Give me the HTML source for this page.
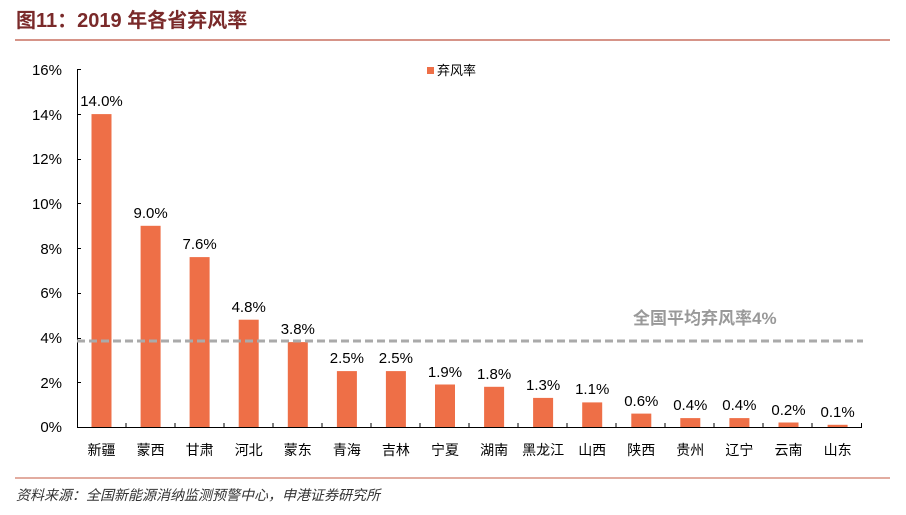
<!DOCTYPE html>
<html><head><meta charset="utf-8"><style>
body{margin:0;background:#fff;}
svg{display:block;font-family:"Liberation Sans","Noto Sans CJK SC",sans-serif;}
</style></head><body>
<svg width="906" height="515" viewBox="0 0 906 515" xmlns="http://www.w3.org/2000/svg">
<text x="16" y="27" font-size="20" font-weight="bold" fill="#7a2a2a">图11：2019 年各省弃风率</text>
<line x1="15" y1="40" x2="890" y2="40" stroke="#c87060" stroke-width="1.5"/>
<g font-size="15" fill="#000" text-anchor="end">
<text x="62" y="75">16%</text><text x="62" y="120">14%</text><text x="62" y="164">12%</text>
<text x="62" y="209">10%</text><text x="62" y="254">8%</text><text x="62" y="298">6%</text>
<text x="62" y="343">4%</text><text x="62" y="388">2%</text><text x="62" y="432">0%</text>
</g>
<g stroke="#000" stroke-width="1">
<line x1="77.5" y1="69" x2="77.5" y2="428"/>
<line x1="77" y1="427.5" x2="862" y2="427.5"/>
<line x1="77" y1="69.5" x2="81" y2="69.5"/><line x1="77" y1="114.5" x2="81" y2="114.5"/>
<line x1="77" y1="159.5" x2="81" y2="159.5"/><line x1="77" y1="203.5" x2="81" y2="203.5"/>
<line x1="77" y1="248.5" x2="81" y2="248.5"/><line x1="77" y1="293.5" x2="81" y2="293.5"/>
<line x1="77" y1="338.5" x2="81" y2="338.5"/><line x1="77" y1="382.5" x2="81" y2="382.5"/>
<line x1="126" y1="427" x2="126" y2="423"/><line x1="175" y1="427" x2="175" y2="423"/>
<line x1="224" y1="427" x2="224" y2="423"/><line x1="273" y1="427" x2="273" y2="423"/>
<line x1="322" y1="427" x2="322" y2="423"/><line x1="371" y1="427" x2="371" y2="423"/>
<line x1="420" y1="427" x2="420" y2="423"/><line x1="469" y1="427" x2="469" y2="423"/>
<line x1="518" y1="427" x2="518" y2="423"/><line x1="567" y1="427" x2="567" y2="423"/>
<line x1="616" y1="427" x2="616" y2="423"/><line x1="665" y1="427" x2="665" y2="423"/>
<line x1="714" y1="427" x2="714" y2="423"/><line x1="763" y1="427" x2="763" y2="423"/>
<line x1="812" y1="427" x2="812" y2="423"/><line x1="861.5" y1="427" x2="861.5" y2="423"/>
</g>
<g fill="#ee6f47">
<rect x="91.5" y="114.1" width="20" height="312.9"/>
<rect x="140.6" y="225.8" width="20" height="201.2"/>
<rect x="189.6" y="257.1" width="20" height="169.9"/>
<rect x="238.7" y="319.7" width="20" height="107.3"/>
<rect x="287.8" y="342.1" width="20" height="84.9"/>
<rect x="336.9" y="371.1" width="20" height="55.9"/>
<rect x="385.9" y="371.1" width="20" height="55.9"/>
<rect x="435" y="384.5" width="20" height="42.5"/>
<rect x="484.1" y="386.8" width="20" height="40.2"/>
<rect x="533.1" y="397.9" width="20" height="29.1"/>
<rect x="582.2" y="402.4" width="20" height="24.6"/>
<rect x="631.3" y="413.6" width="20" height="13.4"/>
<rect x="680.3" y="418.1" width="20" height="8.9"/>
<rect x="729.4" y="418.1" width="20" height="8.9"/>
<rect x="778.5" y="422.5" width="20" height="4.5"/>
<rect x="827.6" y="424.8" width="20" height="2.2"/>
</g>
<g font-size="15" text-anchor="middle">
<text x="101.5" y="106">14.0%</text>
<text x="150.6" y="218">9.0%</text>
<text x="199.6" y="249">7.6%</text>
<text x="248.7" y="312">4.8%</text>
<text x="297.8" y="334">3.8%</text>
<text x="346.9" y="363">2.5%</text>
<text x="395.9" y="363">2.5%</text>
<text x="445" y="377">1.9%</text>
<text x="494.1" y="379">1.8%</text>
<text x="543.1" y="390">1.3%</text>
<text x="592.2" y="394">1.1%</text>
<text x="641.3" y="406">0.6%</text>
<text x="690.3" y="410">0.4%</text>
<text x="739.4" y="410">0.4%</text>
<text x="788.5" y="415">0.2%</text>
<text x="837.6" y="417">0.1%</text>
</g>
<g font-size="14" text-anchor="middle">
<text x="101.5" y="455">新疆</text><text x="150.6" y="455">蒙西</text>
<text x="199.6" y="455">甘肃</text><text x="248.7" y="455">河北</text>
<text x="297.8" y="455">蒙东</text><text x="346.9" y="455">青海</text>
<text x="395.9" y="455">吉林</text><text x="445" y="455">宁夏</text>
<text x="494.1" y="455">湖南</text><text x="543.1" y="455">黑龙江</text>
<text x="592.2" y="455">山西</text><text x="641.3" y="455">陕西</text>
<text x="690.3" y="455">贵州</text><text x="739.4" y="455">辽宁</text>
<text x="788.5" y="455">云南</text><text x="837.6" y="455">山东</text>
</g>
<line x1="77" y1="341" x2="863" y2="341" stroke="#aaa" stroke-width="3" stroke-dasharray="8,4"/>
<text x="633" y="324" font-size="17" fill="#999" font-weight="bold">全国平均弃风率4%</text>
<rect x="427" y="67" width="7" height="7" fill="#ee6f47"/>
<text x="437" y="75" font-size="13">弃风率</text>
<line x1="15" y1="478" x2="890" y2="478" stroke="#d89080" stroke-width="1.5"/>
<text x="16" y="500" font-size="14" font-style="italic" fill="#333">资料来源：全国新能源消纳监测预警中心，申港证券研究所</text>
</svg>
</body></html>
